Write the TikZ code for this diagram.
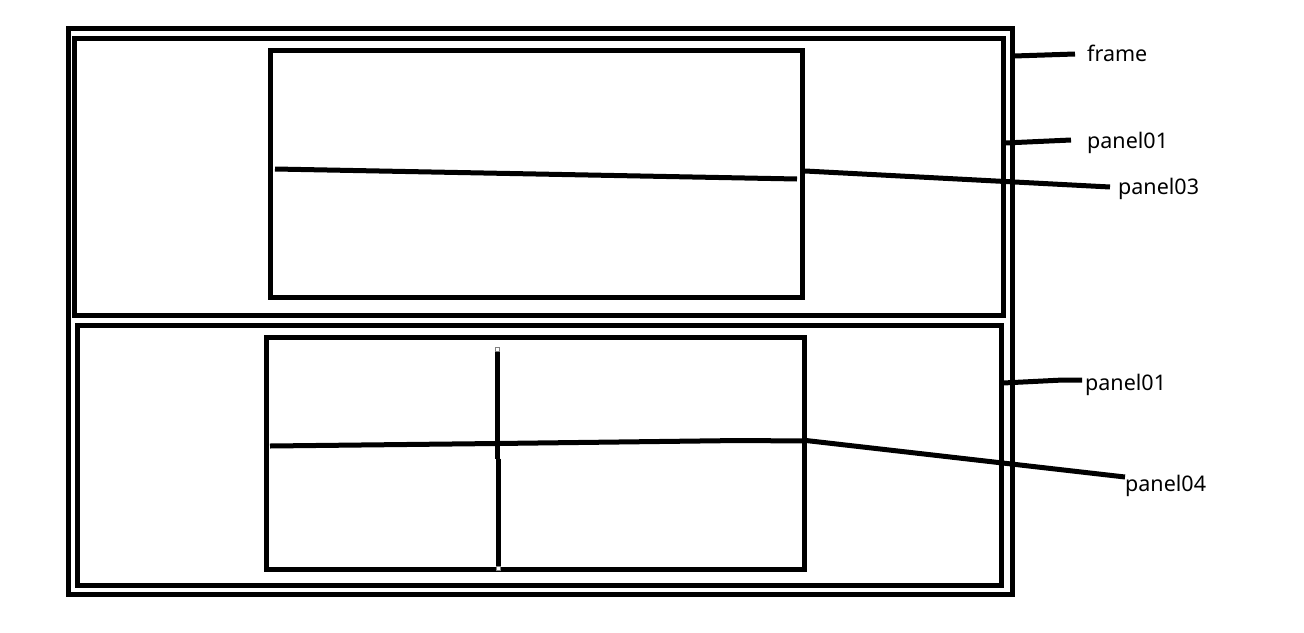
\documentclass[tikz,border=0pt]{standalone}
\usepackage{fontspec}
\setmainfont{Noto Sans}
\begin{document}
\begin{tikzpicture}[x=1pt,y=-1pt,
  box/.style={draw=black,line width=5pt},
  conn/.style={draw=black,line width=5pt},
  lbl/.style={anchor=west,inner sep=0pt,font=\fontsize{21.5}{24}\selectfont},
  handle/.style={draw=gray,fill=white,line width=0.8pt,minimum size=4pt,inner sep=0pt}]
\useasboundingbox (0,0) rectangle (1304,632);
% frames
\draw[box] (68.5,28.5) rectangle (1012.5,594);
\draw[box] (74,38.5) rectangle (1003,315);
\draw[box] (77,325) rectangle (1001.5,585);
\draw[box] (270,50.5) rectangle (802.5,297.5);
\draw[box] (266.5,337.5) rectangle (804,569);
% inner lines
\coordinate (p3a) at (275,169);
\coordinate (p3b) at (797,179);
\draw[conn] (p3a) -- (p3b);
\coordinate (h1) at (270,446);
\coordinate (h2) at (497,443.5);
\coordinate (h3) at (740,440.5);
\coordinate (h4) at (803,441);
\draw[conn] (h1) -- (h2) -- (h3) -- (h4);
\coordinate (v1) at (497.5,350);
\coordinate (v2) at (497.5,458.5);
\coordinate (v3) at (498.5,458.5);
\coordinate (v4) at (498.5,568);
\draw[conn] (v1) -- (v2);
\draw[conn] (v3) -- (v4);
\node[handle] (hd1) at (497.5,349.5) {};
\node[handle] (hd2) at (498.5,568.5) {};
% labels
\node[lbl] (lframe) at (1087,53) {frame};
\node[lbl] (lp1a) at (1087,142.5) {panel01};
\node[lbl] (lp3) at (1118,188.5) {panel03};
\node[lbl] (lp1b) at (1085,384.5) {panel01};
\node[lbl] (lp4) at (1125,485.5) {panel04};
% connector ends
\coordinate (cf0) at (1014,56);
\coordinate (cf1) at (1075,54);
\coordinate (ca0) at (1005,143);
\coordinate (ca1) at (1071,140);
\coordinate (c30) at (805,171);
\coordinate (c31) at (1110,187);
\coordinate (cb0) at (1003,383);
\coordinate (cbm) at (1063,380);
\coordinate (cb1) at (1082,380);
\coordinate (c40) at (806,440.5);
\coordinate (c41) at (1125,477);
\draw[conn] (cf0) -- (cf1);
\draw[conn] (ca0) -- (ca1);
\draw[conn] (c30) -- (c31);
\draw[conn] (cb0) -- (cbm) -- (cb1);
\draw[conn] (c40) -- (c41);
\end{tikzpicture}
\end{document}
